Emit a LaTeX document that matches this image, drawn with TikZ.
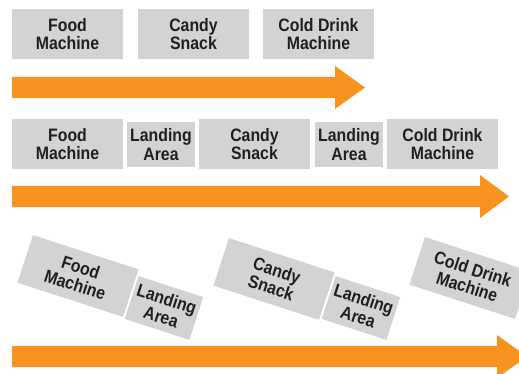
\documentclass[tikz,border=0pt]{standalone}
\usepackage{fontspec}
\setmainfont{Liberation Sans}[FakeStretch=0.88]
\definecolor{boxgray}{HTML}{D1D3D4}
\definecolor{arroworange}{HTML}{F7931E}
\definecolor{textdark}{HTML}{231F20}
\tikzset{
  machinebox/.style={fill=boxgray, inner sep=0pt, align=center, text=textdark,
    minimum width=111pt, minimum height=50pt,
    font=\bfseries\fontsize{18}{18.5}\selectfont},
  landingbox/.style={machinebox, minimum width=68pt, minimum height=45pt},
  flowarrow/.style={fill=arroworange, draw=none}
}
\begin{document}
\begin{tikzpicture}[x=1pt,y=-1pt]
\useasboundingbox (0,0) rectangle (519,374);
\clip (0,0) rectangle (519,374);
% Row 1
\node[machinebox] (fm1) at (67.5,34) {Food\\Machine};
\node[machinebox] (cs1) at (193.5,34) {Candy\\Snack};
\node[machinebox] (cd1) at (318.5,34) {Cold Drink\\Machine};
\fill[flowarrow] (12,77) -- (335,77) -- (335,66) -- (365,87.5) -- (335,109) -- (335,98) -- (12,98) -- cycle;
% Row 2
\node[machinebox] (fm2) at (67.5,144) {Food\\Machine};
\node[landingbox] (la2a) at (161,144.5) {Landing\\Area};
\node[machinebox] (cs2) at (254.5,144) {Candy\\Snack};
\node[landingbox] (la2b) at (349,144.5) {Landing\\Area};
\node[machinebox] (cd2) at (442.5,144) {Cold Drink\\Machine};
\fill[flowarrow] (12,186) -- (480,186) -- (480,175) -- (509,196.5) -- (480,218) -- (480,207) -- (12,207) -- cycle;
% Row 3
\node[machinebox, rotate=-18] (fm3) at (78,276) {Food\\Machine};
\node[landingbox, rotate=-18] (la3a) at (164,308) {Landing\\Area};
\node[machinebox, rotate=-18] (cs3) at (274,279) {Candy\\Snack};
\node[landingbox, rotate=-18] (la3b) at (361,308) {Landing\\Area};
\node[machinebox, rotate=-18] (cd3) at (470,278) {Cold Drink\\Machine};
\fill[flowarrow] (12,346) -- (497,346) -- (497,335) -- (527,356.5) -- (497,378) -- (497,367) -- (12,367) -- cycle;
\end{tikzpicture}
\end{document}
